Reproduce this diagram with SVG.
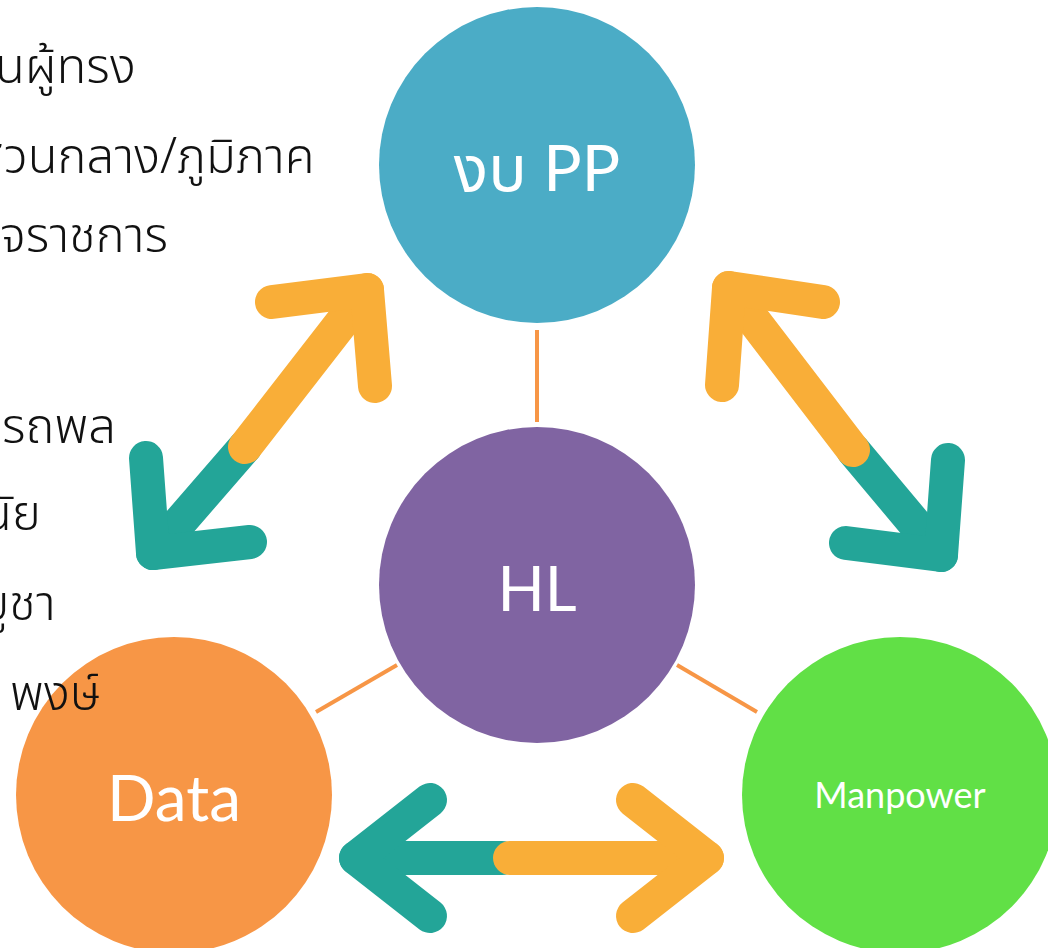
<svg xmlns="http://www.w3.org/2000/svg" width="1048" height="948" viewBox="0 0 1048 948">
<style>
.th{font-family:"Noto Sans Thai","Noto Sans","DejaVu Sans",sans-serif;font-size:49px;font-weight:300;fill:#111}
.lbl{font-family:Lato,"Open Sans","Noto Sans Thai",sans-serif;fill:#fff;text-anchor:middle}
.link{stroke:#F79646;stroke-width:4;fill:none}
.or{stroke:#F9AE38;stroke-width:34;fill:none;stroke-linecap:round;stroke-linejoin:round}
.tl{stroke:#23A598;stroke-width:34;fill:none;stroke-linecap:round;stroke-linejoin:round}
</style>
<rect width="1048" height="948" fill="#fff"/>
<g id="connectors">
<line class="link" x1="537" y1="330" x2="537" y2="422"/>
<line class="link" x1="316" y1="712" x2="397" y2="665"/>
<line class="link" x1="677" y1="665" x2="757" y2="712"/>
<g id="arrow-left">
<polyline class="tl" points="245,447 153,553"/>
<polyline class="tl" points="146,458 153,553 250,542"/>
<polyline class="or" points="245,447 367,290"/>
<polyline class="or" points="272,302 367,290 375,386"/>
</g>
<g id="arrow-right">
<polyline class="tl" points="853,450 941,555"/>
<polyline class="tl" points="948,460 941,555 846,543"/>
<polyline class="or" points="853,450 729,288"/>
<polyline class="or" points="722,385 729,288 823,302"/>
</g>
<g id="arrow-bottom">
<polyline class="tl" points="502,858 356,858"/>
<polyline class="tl" points="430,800 356,858 430,916"/>
<polyline class="or" points="510,858 707,858"/>
<polyline class="or" points="633,800 707,858 633,916"/>
</g>
</g>
<g id="node-pp">
<circle cx="537" cy="165" r="158" fill="#4BACC6"/>
<text class="lbl" x="537" y="191" font-size="64">งบ PP</text>
</g>
<g id="node-hl">
<circle cx="537" cy="585" r="158" fill="#8064A2"/>
<text class="lbl" x="537" y="611" font-size="62">HL</text>
</g>
<g id="node-data">
<circle cx="174" cy="795" r="158" fill="#F79646"/>
<text class="lbl" x="174" y="821" font-size="64">Data</text>
</g>
<g id="node-manpower">
<circle cx="900" cy="795" r="158" fill="#61E046"/>
<text class="lbl" x="900" y="808" font-size="36">Manpower</text>
</g>
<g id="notes">
<text class="th" x="-5" y="83">นผู้ทรง</text>
<text class="th" x="-24" y="173">ส่วนกลาง/ภูมิภาค</text>
<text class="th" x="0" y="252">จราชการ</text>
<text class="th" x="2" y="443">รถพล</text>
<text class="th" x="-18" y="530">นัย</text>
<text class="th" x="-20" y="620">บูชา</text>
<text class="th" x="10" y="710">พงษ์</text>
</g>
</svg>
